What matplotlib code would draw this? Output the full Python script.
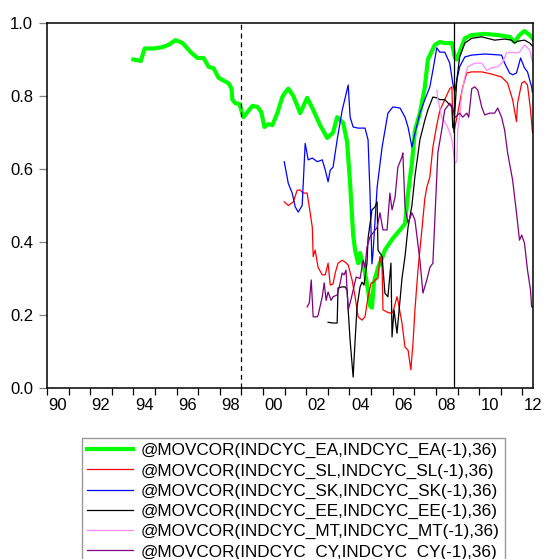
import matplotlib
matplotlib.use("Agg")
import matplotlib.pyplot as plt
from matplotlib.ticker import FixedLocator, NullFormatter

plt.rcParams["font.family"] = ["Liberation Sans", "DejaVu Sans"]

# moving correlations, decimal years
ea_t = [1994.00, 1994.34, 1994.52, 1994.94, 1995.35, 1995.63, 1995.95, 1996.28, 1996.65,
        1996.97, 1997.25, 1997.48, 1997.71, 1997.94, 1998.40, 1998.54, 1998.58, 1998.72,
        1998.91, 1999.09, 1999.28, 1999.51, 1999.74, 1999.92, 2000.06, 2000.25, 2000.43,
        2000.66, 2000.89, 2001.03, 2001.17, 2001.40, 2001.72, 2002.04, 2002.32, 2002.64,
        2002.97, 2003.24, 2003.43, 2003.57, 2003.71, 2003.89, 2004.03, 2004.17, 2004.26,
        2004.40, 2004.49, 2004.72, 2004.86, 2004.95, 2005.04, 2005.13, 2005.25, 2005.32,
        2005.51, 2005.64, 2006.01, 2006.34, 2006.57, 2006.71, 2006.89, 2007.03, 2007.26,
        2007.49, 2007.63, 2007.95, 2008.18, 2008.41, 2008.74, 2008.87, 2008.97, 2009.10,
        2009.34, 2009.66, 2010.26, 2010.86, 2011.41, 2011.64, 2011.87, 2012.10, 2012.34,
        2012.47]
ea_v = [0.900, 0.896, 0.930, 0.930, 0.934, 0.940, 0.953, 0.945, 0.920,
        0.904, 0.904, 0.880, 0.876, 0.850, 0.835, 0.820, 0.790, 0.780,
        0.778, 0.742, 0.756, 0.773, 0.770, 0.756, 0.715, 0.723, 0.720,
        0.753, 0.797, 0.810, 0.820, 0.800, 0.753, 0.795, 0.762, 0.720,
        0.685, 0.700, 0.742, 0.734, 0.726, 0.674, 0.560, 0.420, 0.378,
        0.342, 0.370, 0.315, 0.268, 0.225, 0.220, 0.290, 0.315, 0.330,
        0.356, 0.378, 0.410, 0.433, 0.450, 0.534, 0.616, 0.706, 0.753,
        0.825, 0.900, 0.940, 0.948, 0.945, 0.945, 0.907, 0.900, 0.920,
        0.958, 0.967, 0.970, 0.967, 0.962, 0.948, 0.967, 0.978, 0.967,
        0.958]

sl_t = [2000.98, 2001.17, 2001.40, 2001.58, 2001.72, 2001.86, 2002.04, 2002.18, 2002.28,
        2002.32, 2002.41, 2002.55, 2002.74, 2002.88, 2003.01, 2003.11, 2003.24, 2003.34,
        2003.47, 2003.66, 2003.80, 2003.94, 2004.12, 2004.26, 2004.40, 2004.58, 2004.72,
        2004.86, 2005.00, 2005.09, 2005.18, 2005.32, 2005.41, 2005.51, 2005.55, 2005.74,
        2005.87, 2006.01, 2006.20, 2006.24, 2006.43, 2006.57, 2006.71, 2006.84, 2006.94,
        2007.03, 2007.17, 2007.35, 2007.49, 2007.58, 2007.72, 2007.86, 2008.04, 2008.18,
        2008.41, 2008.64, 2008.74, 2008.78, 2008.83, 2009.01, 2009.24, 2009.43, 2009.66,
        2010.12, 2010.58, 2011.04, 2011.32, 2011.55, 2011.73, 2011.78, 2011.97, 2012.10,
        2012.24, 2012.38, 2012.47]
sl_v = [0.510, 0.500, 0.510, 0.542, 0.542, 0.534, 0.534, 0.480, 0.440,
        0.360, 0.378, 0.330, 0.310, 0.310, 0.342, 0.282, 0.285, 0.315,
        0.342, 0.350, 0.345, 0.337, 0.296, 0.250, 0.195, 0.186, 0.195,
        0.250, 0.288, 0.288, 0.296, 0.300, 0.360, 0.330, 0.214, 0.208,
        0.205, 0.208, 0.250, 0.240, 0.178, 0.112, 0.104, 0.050, 0.123,
        0.214, 0.323, 0.433, 0.520, 0.550, 0.578, 0.660, 0.720, 0.760,
        0.790, 0.820, 0.825, 0.734, 0.700, 0.753, 0.825, 0.863, 0.866,
        0.866, 0.860, 0.852, 0.835, 0.790, 0.730, 0.780, 0.835, 0.840,
        0.830, 0.762, 0.700]

sk_t = [2000.98, 2001.17, 2001.35, 2001.49, 2001.63, 2001.81, 2001.95, 2002.09, 2002.28,
        2002.51, 2002.74, 2002.88, 2003.01, 2003.11, 2003.24, 2003.43, 2003.66, 2003.94,
        2004.03, 2004.17, 2004.40, 2004.72, 2004.86, 2004.95, 2005.04, 2005.09, 2005.28,
        2005.51, 2005.78, 2006.01, 2006.34, 2006.57, 2006.71, 2006.89, 2007.03, 2007.26,
        2007.49, 2007.72, 2007.86, 2008.04, 2008.18, 2008.41, 2008.64, 2008.78, 2008.87,
        2008.97, 2009.10, 2009.34, 2009.66, 2010.26, 2011.04, 2011.18, 2011.41, 2011.55,
        2011.73, 2011.92, 2012.10, 2012.24, 2012.43, 2012.47]
sk_v = [0.620, 0.560, 0.534, 0.496, 0.482, 0.500, 0.670, 0.625, 0.630,
        0.620, 0.625, 0.597, 0.565, 0.597, 0.605, 0.680, 0.760, 0.830,
        0.742, 0.715, 0.712, 0.712, 0.680, 0.534, 0.340, 0.370, 0.550,
        0.660, 0.753, 0.770, 0.767, 0.742, 0.715, 0.660, 0.698, 0.753,
        0.790, 0.825, 0.870, 0.932, 0.920, 0.920, 0.890, 0.835, 0.810,
        0.844, 0.880, 0.907, 0.912, 0.915, 0.912, 0.890, 0.863, 0.858,
        0.863, 0.904, 0.877, 0.866, 0.825, 0.810]

ee_t = [2003.01, 2003.24, 2003.43, 2003.47, 2003.66, 2003.80, 2003.89, 2003.94, 2004.03,
        2004.17, 2004.26, 2004.35, 2004.49, 2004.58, 2004.67, 2004.81, 2004.86, 2005.04,
        2005.18, 2005.28, 2005.32, 2005.51, 2005.64, 2005.78, 2005.92, 2005.97, 2006.06,
        2006.20, 2006.43, 2006.57, 2006.71, 2006.89, 2007.03, 2007.17, 2007.26, 2007.49,
        2007.63, 2007.86, 2008.04, 2008.18, 2008.41, 2008.74, 2008.78, 2008.83, 2008.87,
        2008.97, 2009.10, 2009.34, 2009.66, 2010.12, 2010.72, 2011.18, 2011.50, 2011.64,
        2011.78, 2012.10, 2012.34, 2012.47]
ee_v = [0.180, 0.178, 0.178, 0.274, 0.277, 0.277, 0.268, 0.214, 0.130,
        0.030, 0.130, 0.222, 0.277, 0.290, 0.282, 0.342, 0.410, 0.488,
        0.496, 0.510, 0.378, 0.360, 0.260, 0.250, 0.342, 0.140, 0.214,
        0.150, 0.300, 0.360, 0.440, 0.500, 0.580, 0.640, 0.680, 0.734,
        0.762, 0.797, 0.795, 0.790, 0.790, 0.770, 0.715, 0.710, 0.753,
        0.844, 0.907, 0.945, 0.958, 0.962, 0.953, 0.956, 0.953, 0.945,
        0.950, 0.953, 0.945, 0.937]

mt_t = [2008.04, 2008.09, 2008.27, 2008.50, 2008.64, 2008.74, 2008.83, 2008.87, 2008.97,
        2009.01, 2009.10, 2009.20, 2009.34, 2009.47, 2009.80, 2010.12, 2010.35, 2010.58,
        2010.86, 2011.09, 2011.27, 2011.50, 2011.73, 2011.87, 2012.10, 2012.34, 2012.47]
mt_v = [0.816, 0.790, 0.742, 0.720, 0.700, 0.680, 0.640, 0.616, 0.620,
        0.707, 0.742, 0.808, 0.852, 0.880, 0.890, 0.890, 0.870, 0.877,
        0.880, 0.893, 0.918, 0.920, 0.918, 0.920, 0.940, 0.926, 0.893]

cy_t = [2002.04, 2002.14, 2002.23, 2002.32, 2002.51, 2002.55, 2002.74, 2002.83, 2002.92,
        2003.01, 2003.15, 2003.24, 2003.43, 2003.57, 2003.66, 2003.75, 2003.84, 2003.94,
        2004.03, 2004.17, 2004.31, 2004.49, 2004.63, 2004.72, 2004.81, 2004.95, 2005.09,
        2005.28, 2005.41, 2005.55, 2005.74, 2005.87, 2005.97, 2006.11, 2006.24, 2006.43,
        2006.47, 2006.57, 2006.71, 2006.89, 2007.03, 2007.26, 2007.40, 2007.58, 2007.72,
        2007.86, 2007.95, 2008.09, 2008.27, 2008.41, 2008.64, 2008.78, 2008.87, 2009.10,
        2009.24, 2009.43, 2009.52, 2009.66, 2009.80, 2009.94, 2010.12, 2010.26, 2010.49,
        2010.72, 2010.86, 2011.04, 2011.18, 2011.32, 2011.55, 2011.73, 2011.87, 2011.97,
        2012.10, 2012.24, 2012.38, 2012.43, 2012.47]
cy_v = [0.222, 0.233, 0.296, 0.195, 0.195, 0.200, 0.250, 0.288, 0.240,
        0.263, 0.240, 0.250, 0.255, 0.288, 0.315, 0.310, 0.323, 0.214,
        0.233, 0.268, 0.304, 0.300, 0.350, 0.330, 0.386, 0.414, 0.425,
        0.440, 0.480, 0.433, 0.433, 0.534, 0.488, 0.523, 0.605, 0.633,
        0.644, 0.496, 0.452, 0.480, 0.460, 0.350, 0.260, 0.296, 0.330,
        0.342, 0.460, 0.644, 0.707, 0.762, 0.780, 0.770, 0.740, 0.753,
        0.742, 0.753, 0.742, 0.820, 0.825, 0.816, 0.770, 0.748, 0.753,
        0.753, 0.767, 0.742, 0.707, 0.644, 0.570, 0.480, 0.405, 0.419,
        0.397, 0.323, 0.268, 0.222, 0.222]

labels = ["@MOVCOR(INDCYC_EA,INDCYC_EA(-1),36)",
          "@MOVCOR(INDCYC_SL,INDCYC_SL(-1),36)",
          "@MOVCOR(INDCYC_SK,INDCYC_SK(-1),36)",
          "@MOVCOR(INDCYC_EE,INDCYC_EE(-1),36)",
          "@MOVCOR(INDCYC_MT,INDCYC_MT(-1),36)",
          "@MOVCOR(INDCYC_CY,INDCYC_CY(-1),36)"]
euro_year = 1999.0
crisis_year = 2008.83

fig = plt.figure(figsize=(5.44, 5.59), dpi=100)
ax = fig.add_axes([0.0864, 0.3059, 0.8936, 0.653])

series = [(ea_t, ea_v, "#00ff00", 3.0),
          (sl_t, sl_v, "#ff0000", 0.9),
          (sk_t, sk_v, "#0000ff", 0.9),
          (ee_t, ee_v, "#000000", 0.9),
          (mt_t, mt_v, "#ff88ff", 0.9),
          (cy_t, cy_v, "#800080", 0.9)]
handles = []
for (t, v, col, lw), lab in zip(series, labels):
    h, = ax.plot(t, v, color=col, lw=lw, label=lab, solid_joinstyle="round")
    handles.append(h)

ax.axvline(euro_year, color="black", lw=0.9, ls=(0, (4, 3)))
ax.axvline(crisis_year, color="black", lw=0.9)

ax.set_xlim(1990, 2012.48)
ax.set_ylim(0, 1)
ax.set_yticks([0.0, 0.2, 0.4, 0.6, 0.8, 1.0])
ax.set_yticklabels(["0.0", "0.2", "0.4", "0.6", "0.8", "1.0"])
ax.xaxis.set_major_locator(FixedLocator(list(range(1990, 2013))))
ax.xaxis.set_major_formatter(NullFormatter())
even_years = list(range(1990, 2013, 2))
ax.set_xticks([y + 0.5 for y in even_years], minor=True)
ax.set_xticklabels([f"{y % 100:02d}" for y in even_years], minor=True)
ax.tick_params(axis="x", which="major", direction="out", length=5, width=0.9,
               color="black")
ax.tick_params(axis="x", which="minor", length=0, pad=7, labelsize=12)
ax.tick_params(axis="y", direction="out", length=6, width=0.9, color="#808080",
               labelsize=12, pad=4)
for s in ax.spines.values():
    s.set_linewidth(1.1)

leg = fig.legend(handles=handles, loc="upper left", bbox_to_anchor=(0.151, 0.2165),
                 bbox_transform=fig.transFigure, frameon=True, fancybox=False,
                 edgecolor="#808080", fontsize=12.3, handlelength=2.7,
                 handletextpad=0.45, borderpad=0.3, labelspacing=0.3,
                 borderaxespad=0)
leg.get_frame().set_linewidth(1.0)

fig.savefig("out.png", dpi=100)
